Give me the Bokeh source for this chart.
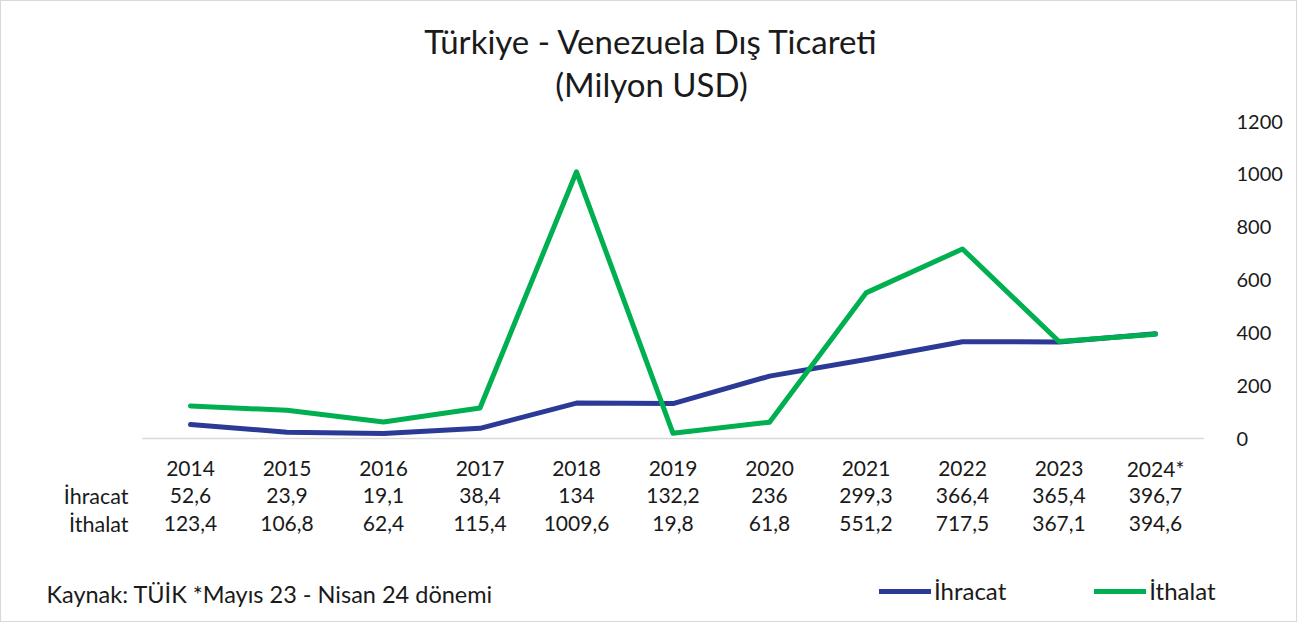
from bokeh.plotting import figure
from bokeh.models import Range1d, FixedTicker, Legend, LegendItem, ColumnDataSource
from bokeh.core.properties import value
from bokeh.embed import file_html
from bokeh.resources import INLINE

# ---- data ----
years = ["2014", "2015", "2016", "2017", "2018", "2019", "2020", "2021", "2022", "2023", "2024*"]
ihracat = [52.6, 23.9, 19.1, 38.4, 134, 132.2, 236, 299.3, 366.4, 365.4, 396.7]
ithalat = [123.4, 106.8, 62.4, 115.4, 1009.6, 19.8, 61.8, 551.2, 717.5, 367.1, 394.6]
ihracat_labels = ["52,6", "23,9", "19,1", "38,4", "134", "132,2", "236", "299,3", "366,4", "365,4", "396,7"]
ithalat_labels = ["123,4", "106,8", "62,4", "115,4", "1009,6", "19,8", "61,8", "551,2", "717,5", "367,1", "394,6"]
y_ticks = [0, 200, 400, 600, 800, 1000, 1200]
series_names = ["İhracat", "İthalat"]
title_lines = ["Türkiye - Venezuela Dış Ticareti", "(Milyon USD)"]
source_note = "Kaynak: TÜİK *Mayıs 23 - Nisan 24 dönemi"

# ---- layout (pixel geometry of the figure) ----
W, H = 1297, 622
RIGHT_BORDER = 68
frame_w = W - RIGHT_BORDER
frame_h = H
FONT = "Lato"
TXT = "#1a1a1a"
BLUE = "#2B3A96"
GREEN = "#00B050"

# y scale: value 0 at pixel 437 from top, 1200 at pixel 120
py0, py1 = 437.0, 120.0
ppu_y = (py0 - py1) / 1200.0
y_top = 1200 + py1 / ppu_y
y_bot = -(frame_h - py0) / ppu_y
def ypx(pix):  # pixel (from top) -> data y
    return (py0 - pix) / ppu_y

# x scale: category i at px 189 + 96.5*i
px0, step = 189.0, 96.5
x_left = -px0 / step
x_right = (frame_w - px0) / step
def xpx(pix):
    return (pix - px0) / step

xs = list(range(len(years)))

p = figure(width=W, height=H, output_backend="svg", toolbar_location=None,
           x_range=Range1d(x_left, x_right), y_range=Range1d(y_bot, y_top),
           y_axis_location="right", min_border_left=0, min_border_top=0,
           min_border_bottom=0, min_border_right=RIGHT_BORDER)
p.styles = {"border": "1px solid #d9d9d9"}
p.outline_line_color = None
p.xaxis.visible = False
p.grid.visible = False
p.background_fill_color = "white"
p.border_fill_color = "white"

yax = p.yaxis[0]
yax.ticker = FixedTicker(ticks=y_ticks)
yax.axis_line_color = None
yax.major_tick_line_color = None
yax.minor_tick_line_color = None
yax.major_label_standoff = 1229 - frame_w
yax.major_label_text_font = FONT
yax.major_label_text_font_size = "20px"
yax.major_label_text_color = TXT

# baseline
p.line([-0.5, len(years) - 0.5], [0, 0], line_color="#d9d9d9", line_width=1.5)

r1 = p.line(xs, ihracat, line_color=BLUE, line_width=5, line_cap="round", line_join="round")
r2 = p.line(xs, ithalat, line_color=GREEN, line_width=5, line_cap="round", line_join="round")

# title
for i, t in enumerate(title_lines):
    p.text(x=[xpx(650)], y=[ypx(39 + 43 * i)], text=[t], text_font=value(FONT),
           text_font_size="33px", text_align="center", text_baseline="middle", text_color=TXT)

# data table
src = ColumnDataSource(dict(x=xs, yr=years, a=ihracat_labels, b=ithalat_labels))
rows = [("yr", 467), ("a", 494), ("b", 522)]
for col, pix in rows:
    p.text(x="x", y=value(ypx(pix)), text=col, source=src, text_font=value(FONT),
           text_font_size="21px", text_align="center", text_baseline="middle", text_color=TXT)
for name, pix in zip(series_names, [494, 522]):
    p.text(x=[xpx(127)], y=[ypx(pix)], text=[name], text_font=value(FONT),
           text_font_size="21.5px", text_align="right", text_baseline="middle", text_color=TXT)

# source note
p.text(x=[xpx(45)], y=[ypx(592)], text=[source_note], text_font=value(FONT),
       text_font_size="23.5px", text_align="left", text_baseline="middle", text_color=TXT)

legend = Legend(items=[LegendItem(label=series_names[0], renderers=[r1]),
                       LegendItem(label=series_names[1], renderers=[r2])],
                orientation="horizontal", location=(878, 18), glyph_width=52,
                label_standoff=3, spacing=88, padding=0, margin=0,
                border_line_color=None, background_fill_alpha=0,
                label_text_font=FONT, label_text_font_size="24px", label_text_color=TXT)
p.add_layout(legend)

open("out.html", "w").write(file_html(p, INLINE))
